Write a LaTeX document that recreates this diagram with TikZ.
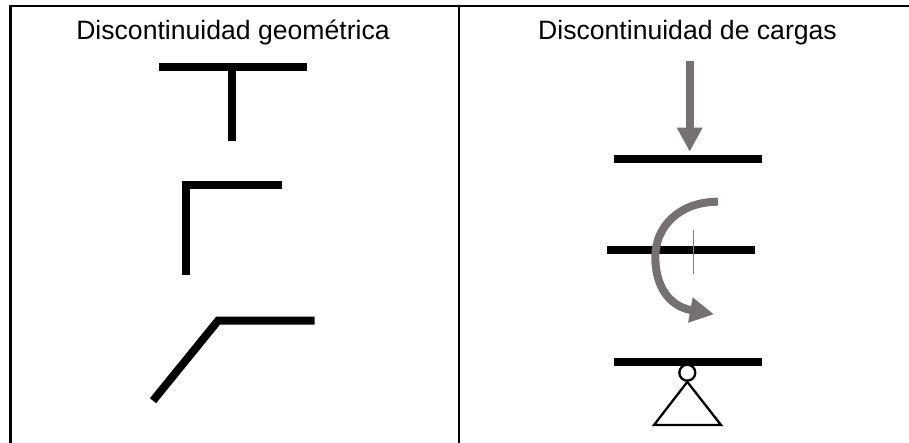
\documentclass[tikz,border=0pt]{standalone}
\usepackage{fontspec}
\setmainfont{Liberation Sans}
\usetikzlibrary{arrows.meta}
\definecolor{loadgray}{RGB}{117,113,113}

\begin{document}
\begin{tikzpicture}[x=1pt, y=-1pt, frame/.style={line width=2.3pt}, bar/.style={line width=8pt, line join=miter},
 load/.style={line width=8pt, draw=loadgray, -{Triangle[length=24pt, width=24pt, fill=loadgray]}},
 ttl/.style={font=\fontsize{26.6}{30}\selectfont, inner sep=0pt, anchor=base}]
\useasboundingbox (0,0) rectangle (909,443);
% frame
\coordinate (TL) at (10.6,6.2);
\coordinate (TM) at (458.7,6.2);
\coordinate (TR) at (912,6.2);
\coordinate (BL) at (10.6,448);
\coordinate (BM) at (458.7,448);
\draw[frame] (BL) -- (TL) -- (TR);
\draw[frame] (TM) -- (BM);
\node[ttl] (geo) at (233,40) {Discontinuidad geométrica};
\node[ttl] (car) at (687.5,40) {Discontinuidad de cargas};
% geometric
\coordinate (T1) at (159,66.7);
\coordinate (T2) at (306.7,66.7);
\coordinate (T3) at (232,66.7);
\coordinate (T4) at (232,141);
\draw[bar] (T1) -- (T2);
\draw[bar] (T3) -- (T4);
\coordinate (L1) at (281.7,184.7);
\coordinate (L2) at (186,184.7);
\coordinate (L3) at (186,275.3);
\draw[bar] (L1) -- (L2) -- (L3);
\coordinate (K1) at (314.7,320.7);
\coordinate (K2) at (218,320.7);
\coordinate (K3) at (153,400.7);
\draw[bar] (K1) -- (K2) -- (K3);
% loads
\coordinate (P1) at (614,158.7);
\coordinate (P2) at (762.3,158.7);
\draw[bar] (P1) -- (P2);
\coordinate (F1) at (689.7,61);
\coordinate (F2) at (689.7,151.7);
\draw[load] (F1) -- (F2);
\coordinate (M1) at (607.3,250.5);
\coordinate (M2) at (755.3,250.5);
\draw[bar] (M1) -- (M2);
\coordinate (N1) at (693.7,230);
\coordinate (N2) at (693.7,274);
\draw[line width=.6pt, gray] (N1) -- (N2);
\coordinate (C1) at (718,201.7);
\coordinate (C2) at (714,314.3);
\draw[load] (C1) .. controls (680,201.7) and (655.3,226) .. (655.3,257) .. controls (655.3,285) and (668,306) .. (C2);
\node[draw, circle, line width=2.3pt, minimum size=16pt, inner sep=0pt, fill=white] (H) at (687.3,372.7) {};
\coordinate (S1) at (614,362);
\coordinate (S2) at (762.3,362);
\draw[bar] (S1) -- (S2);
\coordinate (A1) at (654,425);
\coordinate (A2) at (721,425);
\draw[line width=2.3pt] (H.south) -- (A2) -- (A1) -- cycle;
\end{tikzpicture}
\end{document}
